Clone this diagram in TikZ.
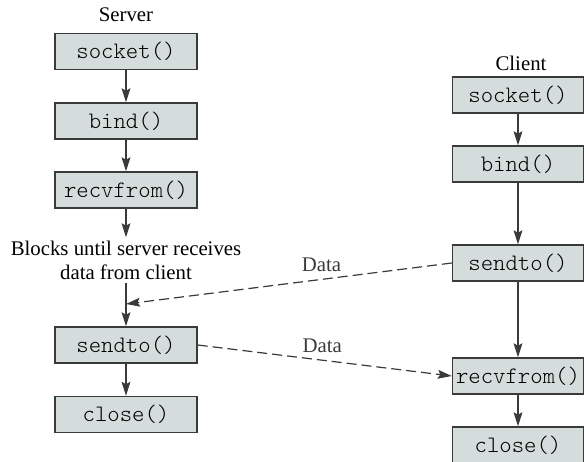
\documentclass[tikz,border=0pt]{standalone}
\usepackage{fontspec}
\setmainfont{Liberation Serif}
\setmonofont{Latin Modern Mono Light}
\usetikzlibrary{arrows.meta}
\definecolor{boxfill}{HTML}{D4DDDB}
\definecolor{boxline}{HTML}{3A3A3A}

\begin{document}
\begin{tikzpicture}[x=0.5pt,y=-0.5pt,
 >={Stealth[length=7pt,width=4.4pt,inset=1.2pt]},
 call/.style={draw=boxline,fill=boxfill,line width=0.7pt,minimum height=18pt,
 inner sep=0pt,font=\ttfamily\fontsize{11.8}{13}\selectfont},
 srv/.style={call,minimum width=71pt},
 cli/.style={call,minimum width=65.5pt},
 lbl/.style={font=\fontsize{10.4}{12}\selectfont,align=center},
 flow/.style={->,boxline,line width=0.6pt},
 data/.style={->,boxline,line width=0.6pt,dash pattern=on 5pt off 2.5pt}]
\useasboundingbox (0,0) rectangle (586,462);
% server side
\node[lbl] (server) at (126,15) {Server};
\foreach \i/\f/\y in {1/socket/51.5,2/bind/121,3/recvfrom/190,4/sendto/345,5/close/414.5}
 \node[srv] (s\i) at (126,\y) {\f()};
\node[lbl,inner sep=1.5pt] (wait) at (126,260) {Blocks until server receives\\data from client};
% client side
\node[lbl] (client) at (521,63.5) {Client};
\foreach \i/\f/\y in {1/socket/95,2/bind/164,3/sendto/263,4/recvfrom/376,5/close/445}
 \node[cli] (c\i) at (518,\y) {\f()};
% calls in order
\foreach \a/\b in {1/2,2/3,4/5}
 \draw[flow] (s\a) -- (s\b);
\draw[flow] (s3) -- (wait);
\draw[flow] (wait) -- (s4);
\foreach \a/\b in {1/2,2/3,3/4,4/5}
 \draw[flow] (c\a) -- (c\b);
% data exchanged
\coordinate (meet) at (126,304);
\draw[data] (c3.west) -- node[lbl,above,pos=0.4] {Data} (meet);
\draw[data] (s4.east) -- node[lbl,above,pos=0.49] {Data} (c4.west);
\end{tikzpicture}
\end{document}
